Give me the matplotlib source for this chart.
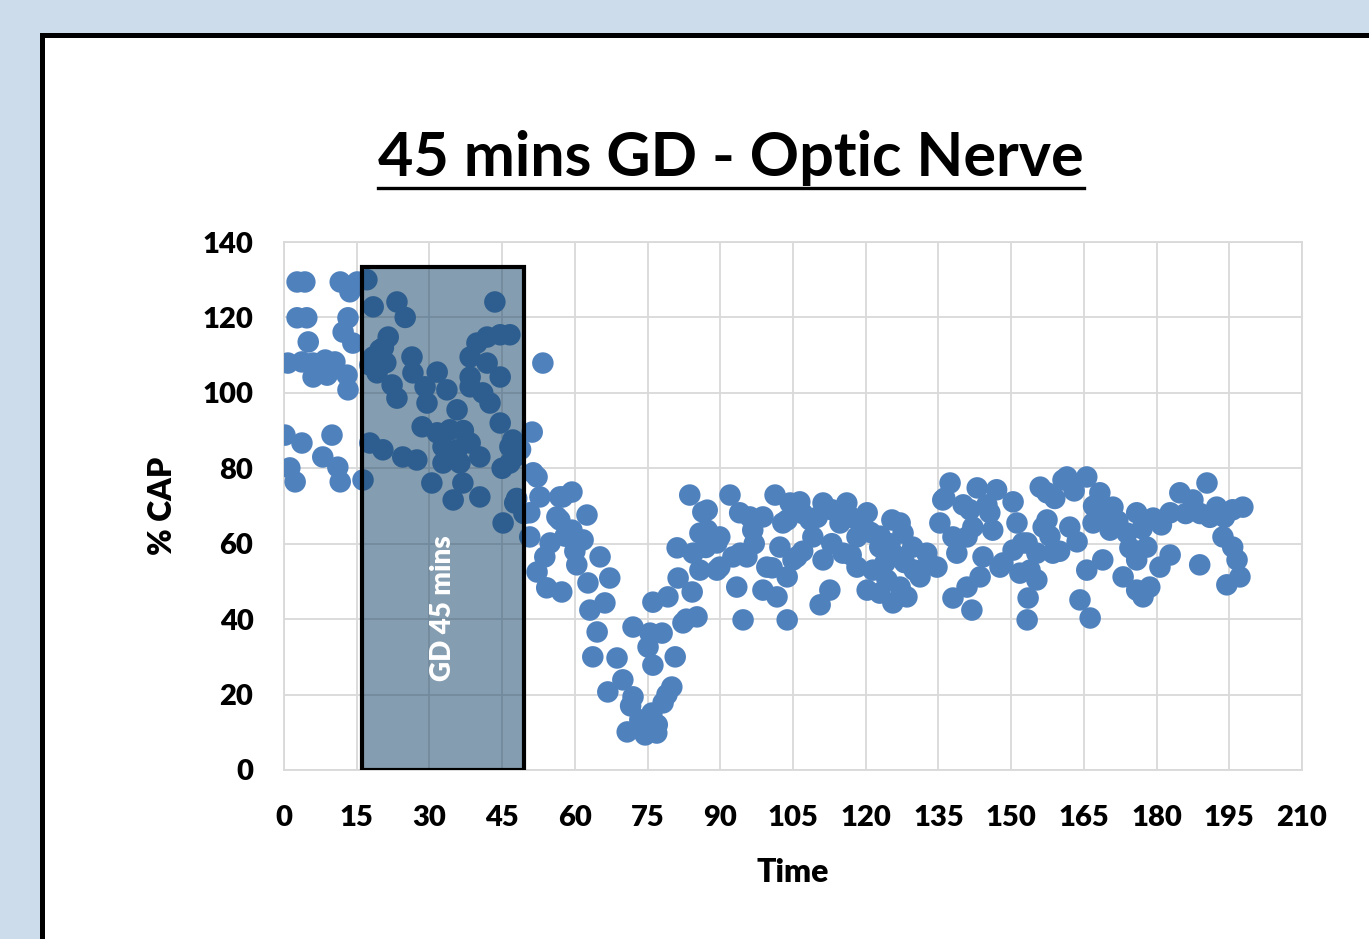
import matplotlib
matplotlib.use("Agg")
import matplotlib.pyplot as plt
from matplotlib.patches import Rectangle
from matplotlib.lines import Line2D

plt.rcParams['font.family'] = ['Lato', 'DejaVu Sans']

# ---- data ----
time_early = [2.7, 4.3, 11.6, 13.6, 15.1, 2.7, 4.7, 13.2, 12.2, 14.2, 5.0, 0.8, 3.7, 6.0, 8.5,
              10.5, 6.0, 8.9, 13.0, 13.2, 0.2, 3.7, 9.9, 1.2, 2.3, 8.0, 11.1, 11.6, 16.3]
cap_early = [129.4, 129.4, 129.4, 126.8, 129.4, 119.9, 119.9, 119.9, 116.1, 113.2, 113.5, 107.9, 108.2, 107.9, 108.7,
             108.2, 104.2, 104.7, 104.7, 100.8, 88.8, 86.7, 88.8, 80.1, 76.4, 83.0, 80.3, 76.4, 76.9]

time_gd = [17.1, 18.4, 23.3, 25, 21.5, 19.8, 18.4, 17.7, 19.2, 22.3, 23.3, 26.4, 26.6, 31.6, 29.1,
           33.6, 29.5, 35.7, 28.5, 31.6, 34.2, 32.8, 35.7, 38.4, 32.8, 36.3, 40.4, 36.9, 34.9, 40.4,
           30.5, 17.7, 20.4, 24.5, 27.4, 43.5, 38.4, 39.8, 41.9, 44.6, 46.6, 41.9, 38.4, 44.6, 38.4,
           41, 42.5, 44.6, 46.6, 47.2, 46.6, 51.2, 53.4, 52.2, 52.8, 47.6, 45.2, 56.9, 56.3,
           20.5, 21, 37, 45, 47.5, 48.8, 48, 49.5]
cap_gd = [130, 122.8, 124.1, 120, 114.8, 111.4, 109.5, 107.4, 105.3, 102.1, 98.6, 109.5, 105.3, 105.5, 101.6,
          100.8, 97.3, 95.5, 91, 89.4, 90.2, 85.7, 84.9, 86.7, 81.4, 81.4, 83.0, 76.1, 71.6, 72.4,
          76.1, 86.7, 84.9, 83.0, 82.2, 124.1, 109.5, 113.2, 114.8, 115.4, 115.4, 107.9, 104.2, 104.2, 101.6,
          100, 97.3, 92, 85.7, 87.5, 81.4, 89.6, 107.9, 77.7, 72.4, 70.8, 65.5, 72.4, 67.1,
          112, 108, 90, 80, 83, 85, 72, 68]

time_dip = [51.4, 50.7, 50.7, 59.4, 57.5, 62.5, 56.9, 59.4, 61.7, 54.9, 53.8, 60.4, 65.2, 52.2, 54.2,
            57.3, 62.7, 67.2, 66.2, 63.1, 64.6, 63.7, 68.7, 66.8, 69.9, 72.0, 70.8, 73.4, 74.5, 76.9,
            75.9, 78.2, 80, 72.0, 75.5, 78, 75.1, 76.1, 80.7, 76.1, 79.2, 81.3, 84.2, 82.3, 85.2,
            81.1, 83.7, 86.4, 85.8, 85.8, 84.4, 58, 60, 71.5, 74, 77, 79, 83, 87]
cap_dip = [78.8, 68.2, 61.8, 73.7, 72.4, 67.6, 66.3, 63.6, 61.0, 60.2, 56.5, 54.4, 56.5, 52.5, 48.3,
           47.2, 49.6, 50.9, 44.3, 42.4, 36.6, 30.0, 29.7, 20.7, 23.9, 19.4, 10.1, 13.3, 9.3, 9.8,
           15.1, 17.8, 22.0, 37.9, 36.3, 36.3, 32.6, 27.8, 30.0, 44.5, 45.9, 50.9, 47.2, 39.0, 40.6,
           58.9, 72.9, 68.4, 62.8, 53.0, 57.5, 62, 58, 17, 12, 12, 20, 40, 59]

time_mid = [87.3, 89.3, 92, 94, 96.7, 98.8, 101.3, 104.4, 102.9, 89.9, 92.6, 95.5, 93.4, 94.7, 98.8,
            101.7, 99.6, 103.8, 102.3, 103.8, 105, 106.4, 111.2, 116.1, 120.3, 125.4, 87.3, 96.1, 103.8, 108.5,
            114.7, 118.2, 122.9, 89.9, 94.1, 105.8, 109.1, 111.2, 115.3, 118.2, 121.5, 124.4, 89.3, 100.7, 110.6,
            112.6, 120.3, 125.6, 127.7, 129.7, 132.6, 134.7, 131.2, 128.5, 122.9, 122.9, 127.1, 127.1,
            107, 110, 113, 117, 119, 121, 123, 125, 126, 128, 130, 133, 97, 107, 113, 117, 124]
cap_mid = [63.6, 60.2, 72.9, 68.2, 63.6, 67.1, 72.9, 70.8, 65.5, 53.8, 56.5, 56.5, 48.5, 39.8, 47.7,
           45.9, 53.8, 39.8, 59.1, 51.2, 55.7, 71.1, 70.8, 70.8, 68.2, 66.3, 68.9, 67.1, 66.3, 66.3,
           65.5, 61.8, 59.1, 61.8, 57.5, 56.5, 61.8, 55.7, 57.5, 53.8, 53.0, 50.4, 53.0, 53.6, 43.8,
           47.7, 47.7, 44.3, 62.8, 59.1, 57.5, 53.8, 51.2, 45.9, 46.9, 53, 65.5, 48.5,
           68, 67, 69, 67, 65, 63, 62, 60, 57, 55, 53, 55, 60, 58, 60, 57, 55]

time_late = [137.4, 143, 147, 150.4, 156, 136.3, 140.1, 145, 151.2, 135.3, 138, 142.1, 146.2, 156.6, 144.2,
             147.7, 151.8, 155.3, 158.6, 143.6, 140.9, 138, 141.9, 153.5, 153.3, 150.4, 153.3, 157.4, 135.9, 141.5,
             145.6, 140.9, 138.8, 148.3, 152.4, 155.3, 153.9, 157.4, 160.7,
             161.5, 165.6, 168.3, 171, 175.9, 179.3, 182.8, 184.8, 187.5, 190.4, 192.4, 195.7, 197.8, 166.9, 170.4,
             173.9, 162.1, 163.6, 174.5, 178, 182.8, 180.7, 175.9, 193.7, 195.7, 196.6, 197.2, 194.5, 188.9, 173.1,
             175.9, 177.2, 178.6, 168.9, 165.6, 164.2, 166.3,
             159, 163, 167, 169, 172, 177, 181, 186, 189, 191, 194, 160, 158]
cap_late = [76.1, 74.8, 74.3, 71.1, 75, 72.1, 70.3, 70.3, 65.5, 65.5, 61.8, 64.4, 63.6, 64.4, 56.5,
            53.8, 52.2, 50.4, 57.5, 51.2, 48.5, 45.6, 42.4, 45.6, 39.8, 58.3, 60.2, 73.5, 71.6, 69.0,
            68.2, 61.8, 57.5, 54.9, 60.2, 57.5, 53, 66.3, 76.9,
            77.7, 77.7, 73.5, 69.7, 68.2, 66.8, 68.2, 73.5, 71.6, 76.1, 69.7, 69, 69.7, 65.5, 63.6,
            62.8, 64.4, 60.5, 58.9, 59.1, 57, 53.8, 55.7, 61.8, 59.1, 55.7, 51.2, 49.1, 54.4, 51.2,
            47.7, 45.9, 48.5, 55.7, 53, 45.1, 40.3,
            72, 74, 70, 67, 66, 64, 65, 68, 68, 67, 67, 58, 62]

time = time_early + time_gd + time_dip + time_mid + time_late
cap = cap_early + cap_gd + cap_dip + cap_mid + cap_late

gd_start, gd_end, gd_top = 16.1, 49.5, 133.3
x_ticks = list(range(0, 211, 15))
y_ticks = list(range(0, 141, 20))

# ---- figure ----
fig = plt.figure(figsize=(13.69, 9.39), dpi=100, facecolor='#cddcea')

# white panel with black frame (behind everything)
panel = Rectangle((42 / 1369, -0.1), 1.2, 0.1 + (939 - 35) / 939, transform=fig.transFigure,
                  facecolor='white', edgecolor='black', linewidth=3.6, zorder=-10)
fig.patches.append(panel)

ax = fig.add_axes([284 / 1369, 169 / 939, 1018 / 1369, 528 / 939])
ax.set_zorder(2)
ax.set_facecolor('white')
ax.scatter(time, cap, s=240, color='#4f81bd', edgecolors='none', zorder=3)

# GD 45 mins box
ax.add_patch(Rectangle((gd_start, 0), gd_end - gd_start, gd_top, facecolor='#0d3d62', alpha=0.5,
                       edgecolor='none', zorder=4))
ax.add_patch(Rectangle((gd_start, 0), gd_end - gd_start, gd_top, facecolor='none',
                       edgecolor='black', linewidth=3, zorder=5))
ax.text((gd_start + gd_end) / 2, 43, 'GD 45 mins', rotation=90, color='white', fontsize=20,
        fontweight='heavy', ha='center', va='center', zorder=6)

ax.set_xlim(0, 210)
ax.set_ylim(0, 140)
ax.set_xticks(x_ticks)
ax.set_yticks(y_ticks)
ax.grid(True, color='#d9d9d9', linewidth=1.3, zorder=0)
ax.set_axisbelow(True)
for sp in ax.spines.values():
    sp.set_color('#d9d9d9')
    sp.set_linewidth(1.3)
ax.tick_params(axis='y', length=0, labelsize=21, pad=22)
ax.tick_params(axis='x', length=0, labelsize=21, pad=25)
for lbl in ax.get_xticklabels() + ax.get_yticklabels():
    lbl.set_fontweight('heavy')

ax.set_xlabel('Time', fontsize=23, fontweight='heavy', labelpad=20)
ax.set_ylabel('% CAP', fontsize=23, fontweight='heavy', labelpad=18)

title = fig.text(731 / 1369, 1 - 158 / 939, '45 mins GD - Optic Nerve', fontsize=44,
                 fontweight='bold', ha='center', va='center')

# underline the title
renderer = fig.canvas.get_renderer()
bb = title.get_window_extent(renderer=renderer)
uy = bb.y0 - 2
fig.add_artist(Line2D([bb.x0 / fig.bbox.width, bb.x1 / fig.bbox.width],
                      [uy / fig.bbox.height, uy / fig.bbox.height],
                      transform=fig.transFigure, color='black', linewidth=2.4))

fig.savefig('out.png', dpi=100, facecolor=fig.get_facecolor())
